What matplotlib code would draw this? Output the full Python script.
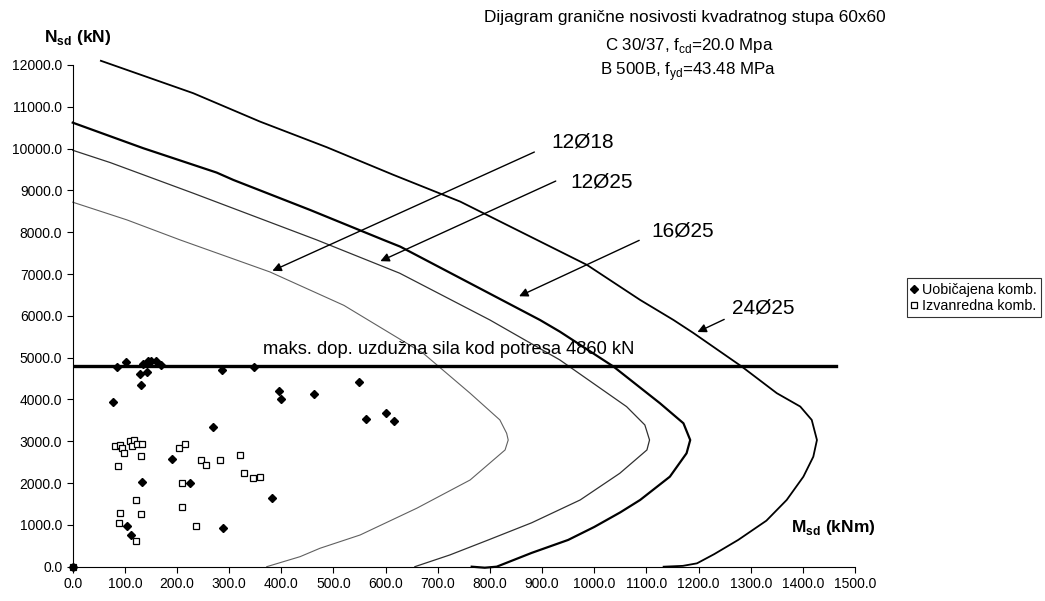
import matplotlib
matplotlib.use("Agg")
import matplotlib.pyplot as plt

plt.rcParams['font.family'] = ['Liberation Sans', 'DejaVu Sans']
plt.rcParams['mathtext.fontset'] = 'custom'
plt.rcParams['mathtext.rm'] = 'Liberation Sans'
plt.rcParams['mathtext.bf'] = 'Liberation Sans:bold'

# interaction curves (M in kNm, N in kN)
m_12d18 = [0, 104, 206, 378, 520, 672, 762, 819, 832, 835, 829, 762, 660, 551, 474, 436, 372]
n_12d18 = [8718, 8294, 7815, 7050, 6250, 5105, 4148, 3510, 3191, 3030, 2792, 2074, 1400, 758, 440, 240, 0]

m_12d25 = [0, 72, 231, 468, 627, 800, 934, 1062, 1097, 1106, 1101, 1049, 973, 880, 797, 723, 656]
n_12d25 = [9960, 9665, 8933, 7815, 7019, 5900, 4945, 3828, 3390, 3030, 2792, 2234, 1596, 1050, 640, 280, 0]

m_16d25 = [0, 135, 276, 308, 455, 596, 628, 896, 934, 1037, 1126, 1171, 1184, 1177, 1145, 1088,
           1050, 1000, 950, 880, 813, 790, 765]
n_16d25 = [10620, 10010, 9426, 9250, 8533, 7815, 7655, 5900, 5622, 4785, 3909, 3430, 3030, 2713,
           2153, 1596, 1300, 950, 640, 330, 0, -25, 0]

m_24d25 = [54, 231, 359, 487, 615, 743, 986, 1088, 1152, 1190, 1283, 1350, 1395, 1417, 1427, 1420, 1401,
           1369, 1330, 1276, 1230, 1197, 1170, 1133]
n_24d25 = [12100, 11325, 10646, 10033, 9371, 8732, 7218, 6380, 5900, 5590, 4785, 4150, 3830, 3510, 3030,
           2630, 2153, 1596, 1100, 640, 300, 80, 20, 0]

# load combinations
m_uob = [0, 102, 84, 134, 145, 150, 159, 169, 129, 142, 131, 77, 286, 348, 395, 399, 463, 548, 562, 601, 616,
         268, 191, 133, 225, 383, 105, 111, 288]
n_uob = [0, 4897, 4770, 4850, 4920, 4930, 4920, 4825, 4600, 4650, 4355, 3940, 4705, 4770, 4210, 4020, 4125,
         4420, 3540, 3685, 3485, 3342, 2570, 2026, 1995, 1636, 981, 750, 918]

m_izv = [0, 81, 91, 94, 98, 86, 110, 118, 114, 124, 133, 130, 203, 216, 246, 256, 282, 321, 329, 346, 359,
         209, 210, 122, 91, 89, 130, 121, 237]
n_izv = [0, 2880, 2904, 2840, 2727, 2400, 3007, 3038, 2880, 2928, 2935, 2641, 2847, 2935, 2553, 2433, 2553,
         2665, 2249, 2129, 2153, 2002, 1421, 1596, 1292, 1053, 1261, 615, 981]

n_limit = 4800
m_limit_end = 1464

fig = plt.figure(figsize=(10.45, 6.01), dpi=100)
ax = fig.add_axes([0.0696, 0.0571, 0.7486, 0.8348])

ax.plot(m_12d18, n_12d18, color='#606060', lw=0.8, clip_on=False)
ax.plot(m_12d25, n_12d25, color='#303030', lw=0.9, clip_on=False)
ax.plot(m_16d25, n_16d25, color='black', lw=1.6, clip_on=False)
ax.plot(m_24d25, n_24d25, color='black', lw=1.3, clip_on=False)

ax.plot([0, m_limit_end], [n_limit, n_limit], color='black', lw=2.4)

ax.plot(m_uob, n_uob, 'D', color='black', ms=3.6, ls='none', clip_on=False, zorder=4,
        label='Uobičajena komb.')
ax.plot(m_izv, n_izv, 's', mfc='white', mec='black', mew=0.9, ms=5, ls='none', clip_on=False, zorder=3,
        label='Izvanredna komb.')

ax.set_xlim(0, 1500)
ax.set_ylim(0, 12000)
ax.set_xticks(range(0, 1501, 100))
ax.set_yticks(range(0, 12001, 1000))
ax.xaxis.set_major_formatter(matplotlib.ticker.FormatStrFormatter('%.1f'))
ax.yaxis.set_major_formatter(matplotlib.ticker.FormatStrFormatter('%.1f'))
ax.tick_params(labelsize=10, length=4, width=0.8, direction='out')
ax.spines['top'].set_visible(False)
ax.spines['right'].set_visible(False)
for s in ['left', 'bottom']:
    ax.spines[s].set_linewidth(0.8)

# arrows to curves
arrows = [((890, 9945), (378, 7050), '12Ø18', (918, 10148)),
          ((931, 9251), (585, 7280), '12Ø25', (954, 9191)),
          ((1091, 7833), (851, 6440), '16Ø25', (1110, 8031)),
          ((1254, 5943), (1193, 5584), '24Ø25', (1264, 6189))]
for start, tip, lab, pos in arrows:
    ax.annotate('', xy=tip, xytext=start,
                arrowprops=dict(arrowstyle='-|>', color='black', lw=1.0, mutation_scale=13))
    ax.text(pos[0], pos[1], lab, fontsize=15, ha='left', va='center')

ax.text(720, 4990, 'maks. dop. uzdužna sila kod potresa 4860 kN', fontsize=13.2, ha='center', va='bottom')

fig.text(0.6555, 0.971, 'Dijagram granične nosivosti kvadratnog stupa 60x60', fontsize=12.4, ha='center', va='center')
fig.text(0.660, 0.925, r'C 30/37, f$_\mathrm{cd}$=20.0 Mpa', fontsize=12.2, ha='center', va='center')
fig.text(0.658, 0.881, r'B 500B, f$_\mathrm{yd}$=43.48 MPa', fontsize=12.2, ha='center', va='center')

fig.text(0.074, 0.938, r'N$_\mathbf{sd}$ (kN)', fontsize=12.5, fontweight='bold', ha='center', va='center')
fig.text(0.797, 0.123, r'M$_\mathbf{sd}$ (kNm)', fontsize=12.5, fontweight='bold', ha='center', va='center')

leg = fig.legend(loc='upper left', bbox_to_anchor=(0.868, 0.537), fontsize=10.3, frameon=True,
                 fancybox=False, edgecolor='black', handlelength=0.4, handletextpad=0.35,
                 borderpad=0.3, labelspacing=0.15, borderaxespad=0)
leg.get_frame().set_linewidth(0.8)

fig.savefig('out.png', dpi=100)
